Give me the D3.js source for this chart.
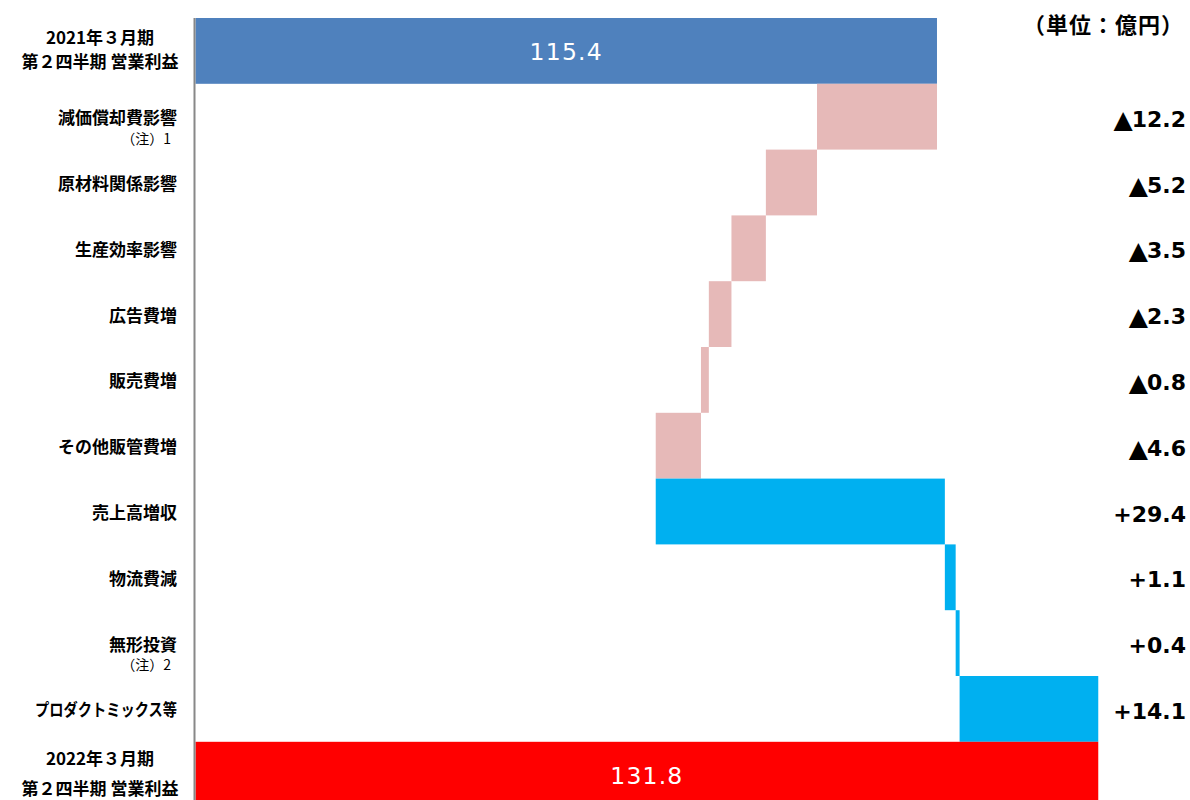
<!DOCTYPE html>
<html>
<head>
<meta charset="utf-8">
<script src="https://cdn.jsdelivr.net/npm/d3@7"></script>
<style>
  body { margin: 0; background: #fff; }
  svg { display: block; }
</style>
</head>
<body>
<svg id="chart" width="1190" height="800"></svg>
<script>
// 営業利益 増減要因 (単位：億円)
var labels = [
    ["2021年３月期", "第２四半期 営業利益"],
    ["減価償却費影響"],
    ["原材料関係影響"],
    ["生産効率影響"],
    ["広告費増"],
    ["販売費増"],
    ["その他販管費増"],
    ["売上高増収"],
    ["物流費減"],
    ["無形投資"],
    ["プロダクトミックス等"],
    ["2022年３月期", "第２四半期 営業利益"]
];
var notes = ["", "（注）1", "", "", "", "", "", "", "", "（注）2", "", ""];
var kinds = ["total", "down", "down", "down", "down", "down", "down", "up", "up", "up", "up", "total"];
var values = [115.4, -12.2, -5.2, -3.5, -2.3, -0.8, -4.6, 29.4, 1.1, 0.4, 14.1, 131.8];
var axisMin = 40, axisMax = 140;

var colors = { total0: "#4F81BD", down: "#E6B9B8", up: "#00B0F0", total1: "#FF0000" };

var svg = d3.select("#chart");

// build start/end for every bar
var data = [];
var run = 0;
values.forEach(function (v, i) {
    var d = { i: i, value: v, kind: kinds[i], label: labels[i], note: notes[i] };
    if (d.kind == "total") {
        d.start = axisMin;
        d.end = v;
        run = v;
    } else {
        d.start = run;
        d.end = run + v;
        run = d.end;
    }
    data.push(d);
});

var x = d3.scaleLinear().domain([axisMin, axisMax]).range([195.5, 1178.9]);
var y = d3.scaleBand().domain(d3.range(values.length)).range([18, 18 + 65.8 * values.length]).padding(0);

// bars
svg.selectAll(".bar")
    .data(data)
    .enter().append("rect")
    .attr("class", "bar")
    .attr("x", function (d) { return x(Math.min(d.start, d.end)); })
    .attr("y", function (d) { return y(d.i); })
    .attr("width", function (d) { return Math.abs(x(d.end) - x(d.start)); })
    .attr("height", y.bandwidth())
    .style("fill", function (d) {
        if (d.kind == "total") return d.i == 0 ? colors.total0 : colors.total1;
        return colors[d.kind];
    });

// vertical axis line
svg.append("line")
    .attr("x1", 194.5).attr("x2", 194.5)
    .attr("y1", 18).attr("y2", 800)
    .style("stroke", "#888").style("stroke-width", 2);

// values inside total bars
svg.selectAll(".totalLabel")
    .data(data.filter(function (d) { return d.kind == "total"; }))
    .enter().append("text")
    .attr("class", "totalLabel")
    .attr("x", function (d) { return (x(d.start) + x(d.end)) / 2; })
    .attr("y", function (d) { return y(d.i) + y.bandwidth() / 2 + 1; })
    .attr("text-anchor", "middle")
    .attr("dominant-baseline", "central")
    .style("font-family", "'DejaVu Sans', Verdana, sans-serif")
    .style("font-size", "23.5px")
    .style("letter-spacing", "1.2px")
    .style("fill", "#fff")
    .text(function (d) { return d3.format(".1f")(d.value); });

// change values on the right
var delta = svg.selectAll(".deltaLabel")
    .data(data.filter(function (d) { return d.kind != "total"; }))
    .enter().append("text")
    .attr("class", "deltaLabel")
    .attr("x", 1186)
    .attr("y", function (d) { return y(d.i) + y.bandwidth() / 2 + 2; })
    .attr("text-anchor", "end")
    .attr("dominant-baseline", "central")
    .style("font-family", "'DejaVu Sans', Verdana, sans-serif")
    .style("font-weight", "bold")
    .style("font-size", "22px")
    .style("fill", "#000");

delta.append("tspan")
    .style("font-size", function (d) { return d.value < 0 ? "25px" : "22px"; })
    .style("letter-spacing", function (d) { return d.value < 0 ? "-1px" : "0px"; })
    .text(function (d) { return d.value < 0 ? "▲" : "+"; });
delta.append("tspan")
    .text(function (d) { return d3.format(".1f")(Math.abs(d.value)); });

// category labels on the left
var cjk = "'Noto Sans CJK JP', 'Noto Sans', sans-serif";
data.forEach(function (d) {
    var cy = y(d.i) + y.bandwidth() / 2;
    if (d.label.length == 2) {
        var offs = d.i == 0 ? [-14, 10] : [-17, 13];
        d.label.forEach(function (line, k) {
            svg.append("text")
                .attr("x", 100)
                .attr("y", cy + offs[k])
                .attr("text-anchor", "middle")
                .attr("dominant-baseline", "central")
                .style("font-family", cjk)
                .style("font-weight", "bold")
                .style("font-size", "17px")
                .text(line);
        });
    } else {
        var t = svg.append("text")
            .attr("x", 177)
            .attr("y", cy)
            .attr("text-anchor", "end")
            .attr("dominant-baseline", "central")
            .style("font-family", cjk)
            .style("font-weight", "bold")
            .style("font-size", "17px")
            .text(d.label[0]);
        // katakana in the original font are narrower than here
        var w = t.node().getComputedTextLength();
        if (w > 145) {
            t.attr("textLength", 142).attr("lengthAdjust", "spacingAndGlyphs");
        }
    }
    if (d.note) {
        svg.append("text")
            .attr("x", 171)
            .attr("y", cy + 21)
            .attr("text-anchor", "end")
            .attr("dominant-baseline", "central")
            .style("font-family", cjk)
            .style("font-size", "14px")
            .text(d.note);
    }
});

// unit
svg.append("text")
    .attr("x", 1184)
    .attr("y", 23)
    .attr("text-anchor", "end")
    .attr("dominant-baseline", "central")
    .style("font-family", cjk)
    .style("font-weight", "bold")
    .style("font-size", "22px")
    .style("letter-spacing", "1px")
    .text("（単位：億円）");
</script>
</body>
</html>
